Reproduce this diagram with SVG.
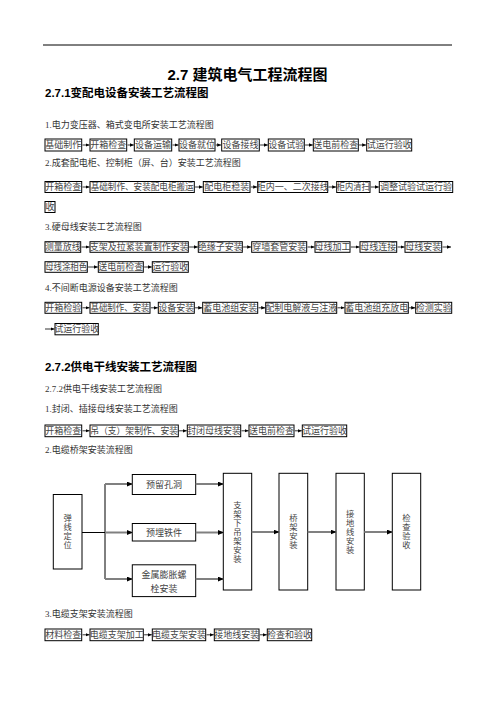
<svg xmlns="http://www.w3.org/2000/svg" width="496" height="702" viewBox="0 0 496 702">
<defs>
<style>
.h{font-family:"Liberation Sans","Noto Sans CJK SC",sans-serif;font-weight:bold;fill:#000}
.lb{font-family:"Liberation Serif","Noto Sans CJK SC",serif;font-size:9px;fill:#333}
.b rect{fill:none;stroke:#000;stroke-width:1}
.b text{font-family:"Liberation Serif","Noto Sans CJK SC",serif;font-size:9px;fill:#444;text-anchor:middle}
.b text.v{font-size:8.3px}
.sa{stroke:#000;stroke-width:0.8;fill:none;marker-end:url(#sm)}
.tl{stroke:#000;stroke-width:1;fill:none}
.ga{stroke:#808080;stroke-width:2;fill:none;marker-end:url(#bm)}
</style>
<marker id="sm" markerUnits="userSpaceOnUse" markerWidth="4" markerHeight="4" refX="4" refY="1.75" orient="auto"><path d="M0,0 L4,1.75 L0,3.5 z" fill="#000"/></marker>
<marker id="bm" markerUnits="userSpaceOnUse" markerWidth="6" markerHeight="6" refX="5.5" refY="2.5" orient="auto"><path d="M0,0 L6,2.5 L0,5 z" fill="#000"/></marker>
</defs>
<rect width="496" height="702" fill="#fff"/>
<line x1="43" y1="45" x2="452" y2="45" stroke="#000" stroke-width="1"/>
<text class="h" x="247.5" y="80" font-size="15" text-anchor="middle">2.7 建筑电气工程流程图</text>
<text class="h" x="45" y="96.5" font-size="11.5">2.7.1变配电设备安装工艺流程图</text>
<text class="lb" x="45" y="128">1.电力变压器、箱式变电所安装工艺流程图</text>
<text class="lb" x="45" y="166">2.成套配电柜、控制柜（屏、台）安装工艺流程图</text>
<text class="lb" x="45" y="230">3.硬母线安装工艺流程图</text>
<text class="lb" x="45" y="290.5">4.不间断电源设备安装工艺流程图</text>
<text class="h" x="45" y="371" font-size="11.5">2.7.2供电干线安装工艺流程图</text>
<text class="lb" x="45" y="392">2.7.2供电干线安装工艺流程图</text>
<text class="lb" x="45" y="412">1.封闭、插接母线安装工艺流程图</text>
<text class="lb" x="45" y="453">2.电缆桥架安装流程图</text>
<text class="lb" x="45" y="617">3.电缆支架安装流程图</text>

<!-- Row 1 -->
<g id="r1n1" class="b"><rect x="45" y="139" width="36.7" height="12"/><text x="63.35" y="148.3">基础制作</text></g>
<g id="r1n2" class="b"><rect x="90" y="139" width="36.7" height="12"/><text x="108.35" y="148.3">开箱检查</text></g>
<g id="r1n3" class="b"><rect x="134.3" y="139" width="37.4" height="12"/><text x="153" y="148.3">设备运输</text></g>
<g id="r1n4" class="b"><rect x="179" y="139" width="36" height="12"/><text x="197" y="148.3">设备就位</text></g>
<g id="r1n5" class="b"><rect x="221.7" y="139" width="37.6" height="12"/><text x="240.5" y="148.3">设备接线</text></g>
<g id="r1n6" class="b"><rect x="268.3" y="139" width="36" height="12"/><text x="286.3" y="148.3">设备试验</text></g>
<g id="r1n7" class="b"><rect x="313.3" y="139" width="45" height="12"/><text x="335.8" y="148.3">送电前检查</text></g>
<g id="r1n8" class="b"><rect x="366.7" y="139" width="45" height="12"/><text x="389.2" y="148.3">试运行验收</text></g>

<!-- Row 2 -->
<g id="r2n1" class="b"><rect x="45" y="181.5" width="36.7" height="11"/><text x="63.35" y="190.3">开箱检查</text></g>
<g id="r2n2" class="b"><rect x="90" y="181.5" width="104.3" height="11"/><text x="142.15" y="190.3" textLength="103" lengthAdjust="spacingAndGlyphs">基础制作、安装配电柜搬运</text></g>
<g id="r2n3" class="b"><rect x="203.3" y="181.5" width="46.7" height="11"/><text x="226.65" y="190.3">配电柜稳装</text></g>
<g id="r2n4" class="b"><rect x="257.7" y="181.5" width="70" height="11"/><text x="292.7" y="190.3">柜内一、二次接线</text></g>
<g id="r2n5" class="b"><rect x="336.7" y="181.5" width="33.3" height="11"/><text x="353.35" y="190.3" textLength="33" lengthAdjust="spacingAndGlyphs">柜内清扫</text></g>
<g id="r2n6" class="b"><rect x="379.3" y="181.5" width="73.4" height="11"/><text x="416" y="190.3">调整试验试运行验</text></g>
<g id="r2n6b" class="b"><rect x="45" y="201.5" width="10" height="11"/><text x="50" y="210.3">收</text></g>

<!-- Row 3 -->
<g id="r3n1" class="b"><rect x="45" y="241.7" width="35.7" height="10.6"/><text x="62.85" y="250.3">测量放线</text></g>
<g id="r3n2" class="b"><rect x="90" y="241.7" width="98.3" height="10.6"/><text x="139.15" y="250.3">支架及拉紧装置制作安装</text></g>
<g id="r3n3" class="b"><rect x="198.3" y="241.7" width="44" height="10.6"/><text x="220.3" y="250.3">绝缘子安装</text></g>
<g id="r3n4" class="b"><rect x="251.7" y="241.7" width="55" height="10.6"/><text x="279.2" y="250.3">穿墙套管安装</text></g>
<g id="r3n5" class="b"><rect x="315" y="241.7" width="35" height="10.6"/><text x="332.5" y="250.3">母线加工</text></g>
<g id="r3n6" class="b"><rect x="360" y="241.7" width="36.7" height="10.6"/><text x="378.35" y="250.3">母线连接</text></g>
<g id="r3n7" class="b"><rect x="405" y="241.7" width="36.7" height="10.6"/><text x="423.35" y="250.3">母线安装</text></g>
<g id="r3n8" class="b"><rect x="45" y="261.7" width="42.3" height="10.6"/><text x="66.15" y="270.3" textLength="42" lengthAdjust="spacingAndGlyphs">母线涂相色</text></g>
<g id="r3n9" class="b"><rect x="98.3" y="261.7" width="45" height="10.6"/><text x="120.8" y="270.3">送电前检查</text></g>
<g id="r3n10" class="b"><rect x="152.3" y="261.7" width="36" height="10.6"/><text x="170.3" y="270.3">运行验收</text></g>

<!-- Row 4 -->
<g id="r4n1" class="b"><rect x="45" y="302.3" width="36.7" height="11"/><text x="63.35" y="311">开箱检验</text></g>
<g id="r4n2" class="b"><rect x="90" y="302.3" width="60" height="11"/><text x="120" y="311" textLength="59" lengthAdjust="spacingAndGlyphs">基础制作、安装</text></g>
<g id="r4n3" class="b"><rect x="158.3" y="302.3" width="36" height="11"/><text x="176.3" y="311">设备安装</text></g>
<g id="r4n4" class="b"><rect x="202.7" y="302.3" width="55" height="11"/><text x="230.2" y="311">蓄电池组安装</text></g>
<g id="r4n5" class="b"><rect x="265.7" y="302.3" width="71" height="11"/><text x="301.2" y="311">配制电解液与注液</text></g>
<g id="r4n6" class="b"><rect x="345" y="302.3" width="63.3" height="11"/><text x="376.65" y="311">蓄电池组充放电</text></g>
<g id="r4n7" class="b"><rect x="415.7" y="302.3" width="36" height="11"/><text x="433.7" y="311">检测实验</text></g>
<g id="r4n8" class="b"><rect x="55" y="323.5" width="43.3" height="11.3"/><text x="76.65" y="332.3">试运行验收</text></g>

<!-- Row 5 -->
<g id="r5n1" class="b"><rect x="45" y="425" width="36.7" height="11.7"/><text x="63.35" y="434">开箱检查</text></g>
<g id="r5n2" class="b"><rect x="90" y="425" width="88.3" height="11.7"/><text x="134.15" y="434" textLength="88" lengthAdjust="spacingAndGlyphs">吊（支）架制作、安装</text></g>
<g id="r5n3" class="b"><rect x="187.3" y="425" width="53.4" height="11.7"/><text x="214" y="434">封闭母线安装</text></g>
<g id="r5n4" class="b"><rect x="249" y="425" width="45" height="11.7"/><text x="271.5" y="434">送电前检查</text></g>
<g id="r5n5" class="b"><rect x="302.3" y="425" width="44.4" height="11.7"/><text x="324.5" y="434">试运行验收</text></g>

<!-- Cable tray flow -->
<g id="f1" class="b"><rect x="53.3" y="494.5" width="28.7" height="74.5"/><text class="v" x="67.65" y="521.2"><tspan x="67.65">弹</tspan><tspan x="67.65" dy="9">线</tspan><tspan x="67.65" dy="9">定</tspan><tspan x="67.65" dy="9">位</tspan></text></g>
<g id="f2" class="b"><rect x="132.3" y="474.5" width="63.4" height="20"/><text x="164" y="487.5">预留孔洞</text></g>
<g id="f3" class="b"><rect x="132.3" y="523.5" width="63.4" height="17.5"/><text x="164" y="535.5">预埋铁件</text></g>
<g id="f4" class="b"><rect x="132.3" y="564.8" width="63.4" height="31.8"/><text x="164" y="578.3">金属膨胀螺</text><text x="164" y="591.5">栓安装</text></g>
<g id="f5" class="b"><rect x="223.3" y="473.3" width="28.4" height="116.7"/><text class="v" x="237.5" y="507.7"><tspan x="237.5">支</tspan><tspan x="237.5" dy="9">架</tspan><tspan x="237.5" dy="9">下</tspan><tspan x="237.5" dy="9">吊</tspan><tspan x="237.5" dy="9">架</tspan><tspan x="237.5" dy="9">安</tspan><tspan x="237.5" dy="9">装</tspan></text></g>
<g id="f6" class="b"><rect x="279" y="473.3" width="28.7" height="116.7"/><text class="v" x="293.35" y="521.2"><tspan x="293.35">桥</tspan><tspan x="293.35" dy="9">架</tspan><tspan x="293.35" dy="9">安</tspan><tspan x="293.35" dy="9">装</tspan></text></g>
<g id="f7" class="b"><rect x="336" y="473.3" width="28.3" height="116.7"/><text class="v" x="350.15" y="516.7"><tspan x="350.15">接</tspan><tspan x="350.15" dy="9">地</tspan><tspan x="350.15" dy="9">线</tspan><tspan x="350.15" dy="9">安</tspan><tspan x="350.15" dy="9">装</tspan></text></g>
<g id="f8" class="b"><rect x="392.3" y="473.3" width="28.4" height="116.7"/><text class="v" x="406.5" y="521.2"><tspan x="406.5">检</tspan><tspan x="406.5" dy="9">查</tspan><tspan x="406.5" dy="9">验</tspan><tspan x="406.5" dy="9">收</tspan></text></g>

<!-- Row 6 -->
<g id="r6n1" class="b"><rect x="45" y="629" width="36.7" height="11.7"/><text x="63.35" y="638">材料检查</text></g>
<g id="r6n2" class="b"><rect x="90" y="629" width="53.3" height="11.7"/><text x="116.65" y="638">电缆支架加工</text></g>
<g id="r6n3" class="b"><rect x="152.3" y="629" width="53.4" height="11.7"/><text x="179" y="638">电缆支架安装</text></g>
<g id="r6n4" class="b"><rect x="214.3" y="629" width="44.7" height="11.7"/><text x="236.65" y="638">接地线安装</text></g>
<g id="r6n5" class="b"><rect x="267.3" y="629" width="44.4" height="11.7"/><text x="289.5" y="638">检查和验收</text></g>

<g id="connectors">
<!-- row 1 -->
<line class="sa" x1="82.5" y1="145" x2="89.5" y2="145"/>
<line class="sa" x1="127.5" y1="145" x2="133.8" y2="145"/>
<line class="sa" x1="172.5" y1="145" x2="178.5" y2="145"/>
<line class="sa" x1="215.8" y1="145" x2="221.2" y2="145"/>
<line class="sa" x1="260.1" y1="145" x2="267.8" y2="145"/>
<line class="sa" x1="305.1" y1="145" x2="312.8" y2="145"/>
<line class="sa" x1="359.1" y1="145" x2="366.2" y2="145"/>
<!-- row 2 -->
<line class="sa" x1="82.5" y1="187" x2="89.5" y2="187"/>
<line class="sa" x1="195.1" y1="187" x2="202.8" y2="187"/>
<line class="sa" x1="250.8" y1="187" x2="257.2" y2="187"/>
<line class="sa" x1="328.5" y1="187" x2="336.2" y2="187"/>
<line class="sa" x1="370.8" y1="187" x2="378.8" y2="187"/>
<!-- row 3 -->
<line class="sa" x1="81.5" y1="247" x2="89.5" y2="247"/>
<line class="sa" x1="189.1" y1="247" x2="197.8" y2="247"/>
<line class="sa" x1="243.1" y1="247" x2="251.2" y2="247"/>
<line class="sa" x1="307.5" y1="247" x2="314.5" y2="247"/>
<line class="sa" x1="350.8" y1="247" x2="359.5" y2="247"/>
<line class="sa" x1="397.5" y1="247" x2="404.5" y2="247"/>
<line class="sa" x1="442.5" y1="247" x2="451" y2="247"/>
<line class="sa" x1="88.1" y1="267" x2="97.8" y2="267"/>
<line class="sa" x1="144.1" y1="267" x2="151.8" y2="267"/>
<!-- row 4 -->
<line class="sa" x1="82.5" y1="307.8" x2="89.5" y2="307.8"/>
<line class="sa" x1="150.8" y1="307.8" x2="157.8" y2="307.8"/>
<line class="sa" x1="195.1" y1="307.8" x2="202.2" y2="307.8"/>
<line class="sa" x1="258.5" y1="307.8" x2="265.2" y2="307.8"/>
<line class="sa" x1="337.5" y1="307.8" x2="344.5" y2="307.8"/>
<line class="sa" x1="409.1" y1="307.8" x2="415.2" y2="307.8"/>
<line class="sa" x1="45" y1="329" x2="54.5" y2="329"/>
<!-- row 5 -->
<line class="sa" x1="82.5" y1="430.8" x2="89.5" y2="430.8"/>
<line class="sa" x1="179.1" y1="430.8" x2="186.8" y2="430.8"/>
<line class="sa" x1="241.5" y1="430.8" x2="248.5" y2="430.8"/>
<line class="sa" x1="294.8" y1="430.8" x2="301.8" y2="430.8"/>
<!-- row 6 -->
<line class="sa" x1="82.5" y1="634.8" x2="89.5" y2="634.8"/>
<line class="sa" x1="144.1" y1="634.8" x2="151.8" y2="634.8"/>
<line class="sa" x1="206.5" y1="634.8" x2="213.8" y2="634.8"/>
<line class="sa" x1="259.8" y1="634.8" x2="266.8" y2="634.8"/>
<!-- cable tray flow -->
<path class="tl" d="M82,532.5 H105 M105,484 V579"/>
<line class="ga" x1="105" y1="484" x2="132.3" y2="484"/>
<line class="ga" x1="105" y1="532.5" x2="132.3" y2="532.5"/>
<line class="ga" x1="105" y1="579" x2="132.3" y2="579"/>
<line class="ga" x1="195.7" y1="484" x2="223.3" y2="484"/>
<line class="ga" x1="195.7" y1="532.5" x2="223.3" y2="532.5"/>
<line class="ga" x1="195.7" y1="579" x2="223.3" y2="579"/>
<line class="ga" x1="251.7" y1="532" x2="279" y2="532"/>
<line class="ga" x1="307.7" y1="532" x2="336" y2="532"/>
<line class="ga" x1="364.3" y1="532" x2="392.3" y2="532"/>
</g>
</svg>
